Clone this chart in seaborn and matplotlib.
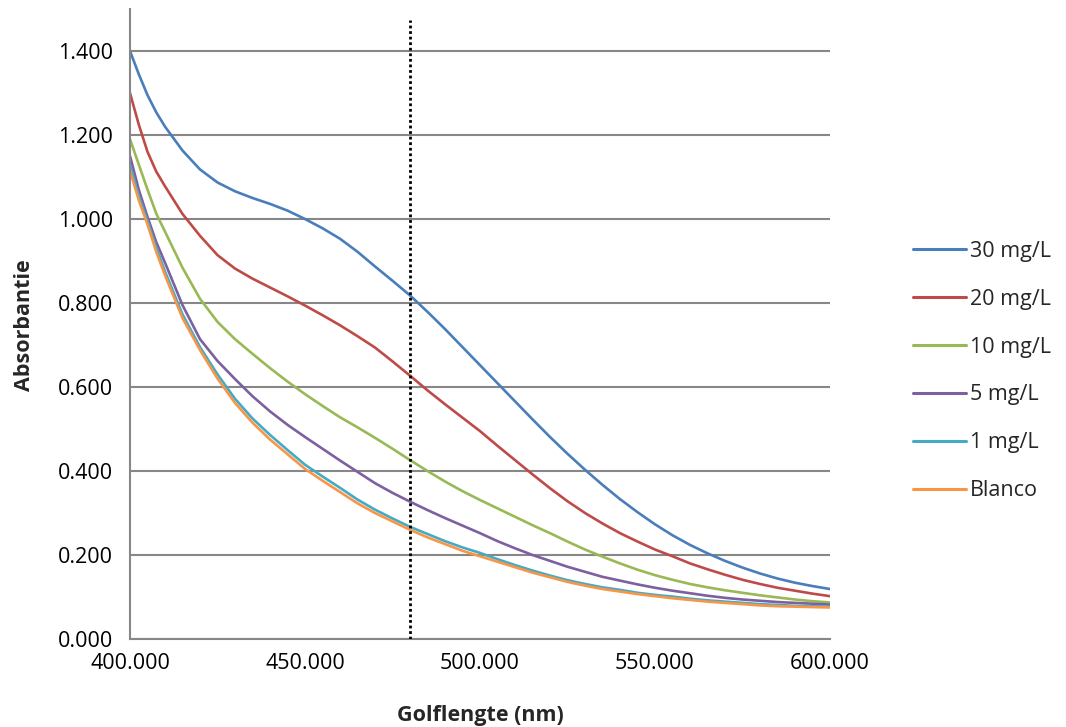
import matplotlib
matplotlib.use("Agg")
import matplotlib.pyplot as plt
import seaborn as sns
import pandas as pd
from matplotlib.ticker import FuncFormatter, MultipleLocator

# Absorption spectra of the dilution series (denser sampling at the steep start)
wavelength = [400, 402.5, 405, 407.5, 410, 415, 420, 425, 430, 435, 440, 445, 450, 455,
              460, 465, 470, 475, 480, 485, 490, 495, 500, 505, 510, 515, 520, 525, 530,
              535, 540, 545, 550, 555, 560, 565, 570, 575, 580, 585, 590, 595, 600]

abs_30 = [1.400, 1.345, 1.295, 1.254, 1.220, 1.163, 1.118, 1.087, 1.066, 1.050, 1.036,
          1.020, 1.000, 0.978, 0.953, 0.922, 0.887, 0.853, 0.818, 0.779, 0.738, 0.695,
          0.652, 0.609, 0.566, 0.523, 0.481, 0.441, 0.403, 0.367, 0.333, 0.302, 0.273,
          0.247, 0.224, 0.204, 0.186, 0.170, 0.156, 0.144, 0.134, 0.126, 0.119]
abs_20 = [1.300, 1.225, 1.160, 1.113, 1.078, 1.012, 0.960, 0.914, 0.882, 0.858, 0.837,
          0.816, 0.794, 0.771, 0.747, 0.721, 0.694, 0.661, 0.627, 0.592, 0.559, 0.527,
          0.495, 0.460, 0.426, 0.392, 0.359, 0.328, 0.300, 0.275, 0.252, 0.232, 0.213,
          0.197, 0.180, 0.166, 0.153, 0.141, 0.131, 0.122, 0.115, 0.108, 0.102]
abs_10 = [1.190, 1.130, 1.070, 1.013, 0.970, 0.884, 0.810, 0.755, 0.714, 0.679, 0.645,
          0.613, 0.583, 0.555, 0.528, 0.504, 0.479, 0.453, 0.426, 0.400, 0.375, 0.352,
          0.331, 0.311, 0.291, 0.271, 0.252, 0.232, 0.213, 0.196, 0.180, 0.165, 0.152,
          0.141, 0.131, 0.123, 0.116, 0.110, 0.104, 0.099, 0.094, 0.090, 0.087]
abs_5 = [1.150, 1.070, 1.005, 0.945, 0.896, 0.795, 0.714, 0.662, 0.619, 0.578, 0.542,
         0.510, 0.481, 0.453, 0.425, 0.398, 0.371, 0.348, 0.327, 0.307, 0.288, 0.270,
         0.252, 0.233, 0.216, 0.200, 0.186, 0.172, 0.160, 0.148, 0.139, 0.130, 0.122,
         0.115, 0.109, 0.103, 0.098, 0.094, 0.091, 0.088, 0.086, 0.084, 0.082]
abs_1 = [1.130, 1.055, 0.995, 0.932, 0.875, 0.773, 0.695, 0.630, 0.572, 0.525, 0.486,
         0.450, 0.415, 0.387, 0.360, 0.332, 0.308, 0.287, 0.267, 0.250, 0.233, 0.218,
         0.205, 0.190, 0.176, 0.163, 0.151, 0.140, 0.131, 0.123, 0.117, 0.110, 0.105,
         0.101, 0.096, 0.092, 0.089, 0.086, 0.083, 0.081, 0.079, 0.078, 0.077]
abs_blank = [1.115, 1.045, 0.987, 0.922, 0.866, 0.764, 0.688, 0.620, 0.562, 0.515, 0.475,
             0.440, 0.405, 0.377, 0.350, 0.323, 0.300, 0.280, 0.260, 0.242, 0.226, 0.210,
             0.197, 0.184, 0.171, 0.158, 0.147, 0.136, 0.127, 0.119, 0.113, 0.107, 0.102,
             0.097, 0.093, 0.089, 0.086, 0.083, 0.080, 0.078, 0.077, 0.076, 0.075]

series_names = ["30 mg/L", "20 mg/L", "10 mg/L", "5 mg/L", "1 mg/L", "Blanco"]
series_values = [abs_30, abs_20, abs_10, abs_5, abs_1, abs_blank]
series_colors = ["#4A7EBB", "#BE4B48", "#98B954", "#7D60A0", "#46AAC5", "#F79646"]

measure_wavelength = 480

frames = []
for name, vals in zip(series_names, series_values):
    frames.append(pd.DataFrame({"Golflengte": wavelength, "Absorbantie": vals, "Reeks": name}))
df = pd.concat(frames, ignore_index=True)

sns.set_style("white")
plt.rcParams["font.family"] = ["Open Sans", "DejaVu Sans"]

FS = 15.5

fig = plt.figure(figsize=(10.66, 7.27), dpi=100)
ax = fig.add_axes([130 / 1066, 1 - 639 / 727, 700 / 1066, 630 / 727])

grid_color = "#878787"
ax.set_xlim(400, 600)
ax.set_ylim(0, 1.5)
ax.yaxis.set_major_locator(MultipleLocator(0.2))
ax.xaxis.set_major_locator(MultipleLocator(50))
ax.yaxis.grid(True, color=grid_color, linewidth=1.5)
ax.xaxis.grid(False)
ax.set_axisbelow(True)

sns.lineplot(data=df, x="Golflengte", y="Absorbantie", hue="Reeks",
             hue_order=series_names, palette=series_colors, linewidth=1.9,
             ax=ax, legend=False)

ax.vlines(measure_wavelength, 0, 1.474, colors="black",
          linestyles=(0, (1, 1)), linewidth=2, zorder=5)

for side in ["top", "right"]:
    ax.spines[side].set_visible(False)
for side in ["left", "bottom"]:
    ax.spines[side].set_color(grid_color)
    ax.spines[side].set_linewidth(1.5)

ax.tick_params(axis="both", which="major", direction="out", length=7, width=1.5,
               color=grid_color, labelsize=FS, labelcolor="black")
ax.tick_params(axis="x", pad=3)
ax.tick_params(axis="y", pad=5)
ax.xaxis.set_major_formatter(FuncFormatter(lambda v, p: f"{v:.3f}"))
ax.yaxis.set_major_formatter(FuncFormatter(lambda v, p: f"{v:.3f}"))

ax.set_xlabel("Golflengte (nm)", fontsize=FS, fontweight="bold")
ax.set_ylabel("Absorbantie", fontsize=FS, fontweight="bold")
ax.xaxis.set_label_coords(0.5, -(715 - 639) / 630)
ax.xaxis.label.set_verticalalignment("center")
ax.yaxis.set_label_coords((25 - 130) / 700, (639 - 325) / 630)
ax.yaxis.label.set_verticalalignment("center")

handles = [plt.Line2D([], [], color=c, linewidth=2.2) for c in series_colors]
leg = ax.legend(handles, series_names, loc="center left",
                bbox_to_anchor=(913 / 1066, 1 - 371 / 727), bbox_transform=fig.transFigure,
                frameon=False, fontsize=FS, handlelength=2.45, handletextpad=0.2,
                labelspacing=1.25, borderaxespad=0, borderpad=0)

fig.savefig("out.png", dpi=100)
